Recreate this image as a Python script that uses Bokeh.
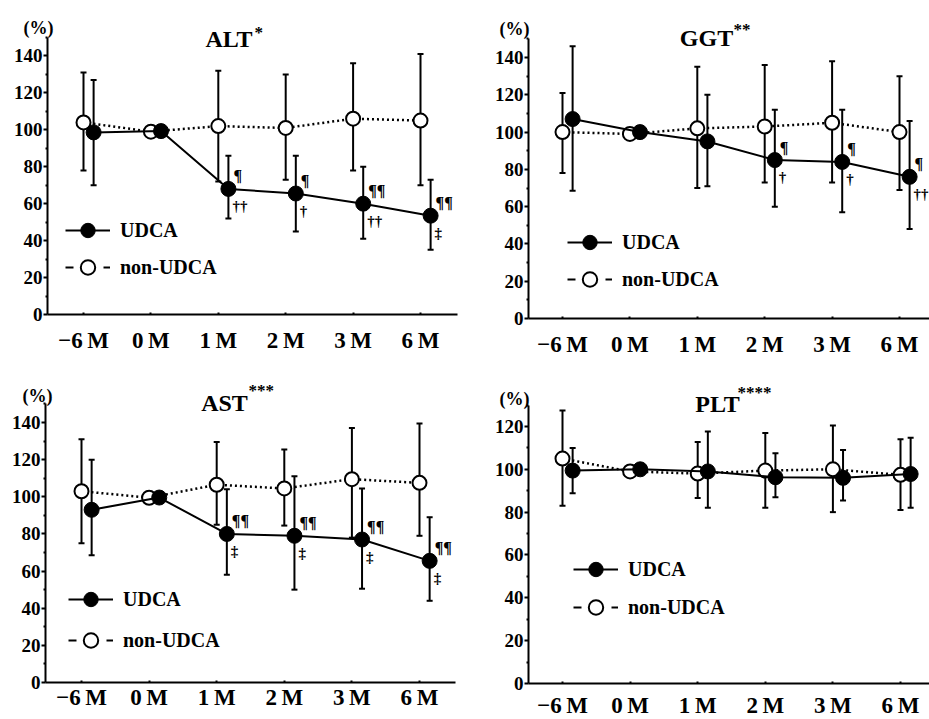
import math
from bokeh.plotting import figure
from bokeh.layouts import column, row
from bokeh.models import (ColumnDataSource, Whisker, TeeHead, Legend, LegendItem,
                          Label, FixedTicker, Range1d)
from bokeh.core.properties import value
from bokeh.embed import file_html
from bokeh.resources import INLINE

NaN = float("nan")
FONT = "Liberation Serif"

# ---------------- data ----------------
months = ["\u22126\u2009M", "0\u2009M", "1\u2009M", "2\u2009M", "3\u2009M", "6\u2009M"]

alt_non = [104, 99, 102, 101, 106, 105]
alt_non_hi = [131, NaN, 132, 130, 136, 141]
alt_non_lo = [78, NaN, 72, 73, 78, 70]
alt_udca = [98.6, 99.3, 68, 65.5, 60, 53.5]
alt_udca_hi = [127, NaN, 86, 86, 80, 73]
alt_udca_lo = [70, NaN, 52, 45, 41, 35]
alt_up = ["", "", "\u00b6", "\u00b6", "\u00b6\u00b6", "\u00b6\u00b6"]
alt_dn = ["", "", "\u2020\u2020", "\u2020", "\u2020\u2020", "\u2021"]

ggt_non = [100, 99, 102, 103, 105, 100]
ggt_non_hi = [121, NaN, 135, 136, 138, 130]
ggt_non_lo = [78, NaN, 70, 73, 73, 69]
ggt_udca = [107, 100, 95, 85, 84, 76]
ggt_udca_hi = [146, NaN, 120, 112, 112, 106]
ggt_udca_lo = [68.5, NaN, 71, 60, 57, 48]
ggt_up = ["", "", "", "\u00b6", "\u00b6", "\u00b6"]
ggt_dn = ["", "", "", "\u2020", "\u2020", "\u2020\u2020"]

ast_non = [103, 99.5, 106.5, 104.5, 109.5, 107.5]
ast_non_hi = [131, NaN, 129.5, 125.5, 137, 139.5]
ast_non_lo = [75, NaN, 85, 84.5, 78, 79]
ast_udca = [93, 99.6, 80, 79, 77, 65.5]
ast_udca_hi = [120, NaN, 104, 111, 104.5, 89]
ast_udca_lo = [68.5, NaN, 58, 50, 50.5, 44]
ast_up = ["", "", "\u00b6\u00b6", "\u00b6\u00b6", "\u00b6\u00b6", "\u00b6\u00b6"]
ast_dn = ["", "", "\u2021", "\u2021", "\u2021", "\u2021"]

plt_non = [105, 99, 98, 99.4, 100, 97.4]
plt_non_hi = [127.5, NaN, 112.7, 117, 120.4, 114]
plt_non_lo = [83, NaN, 86.6, 82, 80, 81]
plt_udca = [99.4, 100, 99, 96.3, 96, 97.8]
plt_udca_hi = [110, NaN, 117.6, 107.5, 109, 114.7]
plt_udca_lo = [88.8, NaN, 82, 87, 85.4, 82]
plt_up = ["", "", "", "", "", ""]
plt_dn = ["", "", "", "", "", ""]

UDCA_SHIFT = 0.15
LEG_H = 36  # legend glyph box height (marker in legend = 0.4 * this)


def errsrc(xs, hi, lo):
    d = dict(x=[], upper=[], lower=[])
    for x, h, l in zip(xs, hi, lo):
        if not (math.isnan(h) or math.isnan(l)):
            d["x"].append(x); d["upper"].append(h); d["lower"].append(l)
    return ColumnDataSource(d)


def panel(name, stars, non, non_hi, non_lo, ud, ud_hi, ud_lo, up, dn, ymax, yticks, g):
    # g: page geometry (pixels) of this panel
    ox, oy, w, h = g["ox"], g["oy"], g["w"], g["h"]
    cx0, sp, y0p, py = g["cx0"], g["sp"], g["y0p"], g["py"]

    def dx(px):
        return (px - cx0) / sp

    def dy(pyy):
        return (y0p - pyy) / py

    p = figure(width=w, height=h, output_backend="svg", toolbar_location=None,
               title=None,
               x_range=Range1d(dx(ox), dx(ox + w)),
               y_range=Range1d(dy(oy + h), dy(oy)),
               min_border=0, min_border_left=0, min_border_right=0,
               min_border_top=0, min_border_bottom=0)
    p.outline_line_color = None
    p.xgrid.visible = False
    p.ygrid.visible = False
    p.background_fill_color = "white"
    p.border_fill_color = "white"

    xs = list(range(len(months)))
    xu = [x + UDCA_SHIFT for x in xs]

    # error bars
    for src in (errsrc(xs, non_hi, non_lo), errsrc(xu, ud_hi, ud_lo)):
        wk = Whisker(base="x", upper="upper", lower="lower", source=src,
                     dimension="height", line_color="black", line_width=2,
                     upper_head=TeeHead(size=6, line_width=2, line_color="black"),
                     lower_head=TeeHead(size=6, line_width=2, line_color="black"))
        p.add_layout(wk)

    # non-UDCA
    p.line(xs, non, line_color="black", line_width=2.5, line_dash="2 3")
    p.scatter(xs, non, marker="circle", size=14, fill_color="white",
              line_color="black", line_width=2)
    # UDCA
    p.line(xu, ud, line_color="black", line_width=2)
    p.scatter(xu, ud, marker="circle", size=15, fill_color="black",
              line_color="black")

    # significance marks
    ux = [x for x, t in zip(xu, up) if t]
    uy = [y for y, t in zip(ud, up) if t]
    ut = [t for t in up if t]
    if ut:
        p.text(ux, uy, text=ut, x_offset=5, y_offset=-13, text_color="black",
               text_font=value(FONT), text_font_style="bold",
               text_font_size="16px", text_baseline="middle", text_align="left")
    lx = [x for x, t in zip(xu, dn) if t]
    ly = [y for y, t in zip(ud, dn) if t]
    lt = [t for t in dn if t]
    if lt:
        p.text(lx, ly, text=lt, x_offset=4, y_offset=17, text_color="black",
               text_font=value(FONT), text_font_style="bold",
               text_font_size="15px", text_baseline="middle", text_align="left")

    # legend (legend-only renderers, no visible data)
    l1 = p.line([NaN], [NaN], line_color="black", line_width=2)
    m1 = p.scatter([NaN], [NaN], marker="circle", size=15, fill_color="black", line_color="black")
    l2 = p.line([NaN], [NaN], line_color="black", line_width=2, line_dash="8 30")
    m2 = p.scatter([NaN], [NaN], marker="circle", size=13, fill_color="white",
                   line_color="black", line_width=2)
    r1, r2 = g["leg_rows"]
    leg = Legend(items=[LegendItem(label="UDCA", renderers=[l1, m1]),
                        LegendItem(label="non-UDCA", renderers=[l2, m2])],
                 location=(g["leg_left"] - ox, (oy + h) - (r2 + LEG_H / 2)),
                 background_fill_alpha=0, border_line_color=None,
                 padding=0, margin=0, spacing=int(max(0, r2 - r1 - LEG_H)), glyph_width=45,
                 glyph_height=LEG_H, label_height=LEG_H, label_standoff=10,
                 label_text_font=FONT, label_text_font_style="bold",
                 label_text_color="black",
                 label_text_font_size="20px", label_text_baseline="middle")
    p.add_layout(leg)

    # axes (pinned at the data origin, bounded like the original)
    ax_x = dx(g["ax"])
    p.xaxis.fixed_location = 0
    p.yaxis.fixed_location = ax_x
    p.xaxis.bounds = (ax_x, dx(g["xr"]))
    p.yaxis.bounds = (0, ymax)
    p.xaxis.ticker = FixedTicker(ticks=xs)
    p.xaxis.major_label_overrides = {i: m for i, m in enumerate(months)}
    p.yaxis.ticker = FixedTicker(ticks=yticks,
                                 minor_ticks=[t + 10 for t in yticks])
    for ax in (p.xaxis, p.yaxis):
        ax.axis_line_width = 2
        ax.axis_line_color = "black"
        ax.major_tick_line_color = "black"
        ax.major_tick_line_width = 2
        ax.minor_tick_line_color = "black"
        ax.minor_tick_line_width = 2
        ax.major_label_text_font = FONT
        ax.major_label_text_font_style = "bold"
        ax.major_label_text_color = "black"
    p.xaxis.major_tick_in = 2
    p.xaxis.major_tick_out = 0
    p.xaxis.minor_tick_line_color = None
    p.xaxis.major_label_text_font_size = "23px"
    p.xaxis.major_label_standoff = g["xstand"]
    p.yaxis.major_tick_in = 0
    p.yaxis.major_tick_out = 4
    p.yaxis.minor_tick_in = 0
    p.yaxis.minor_tick_out = 2
    p.yaxis.major_label_text_font_size = "19px"
    p.yaxis.major_label_standoff = 1

    # title and unit labels
    tx, ty = g["title"]
    sx, sy = g["stars"]
    qx, qy = g["pct"]
    p.add_layout(Label(x=dx(tx), y=dy(ty), text=name, text_font=FONT,
                       text_font_style="bold", text_font_size="24px",
                       text_align="center", text_baseline="alphabetic",
                       text_color="black"))
    p.add_layout(Label(x=dx(sx), y=dy(sy), text=stars, text_font=FONT,
                       text_font_style="bold", text_font_size="17px",
                       text_align="left", text_baseline="top", text_color="black"))
    p.add_layout(Label(x=dx(qx), y=dy(qy), text="(%)", text_font=FONT,
                       text_font_style="bold", text_font_size="18px",
                       text_align="center", text_baseline="alphabetic",
                       text_color="black"))
    return p


ticks140 = [0, 20, 40, 60, 80, 100, 120, 140]
ticks120 = [0, 20, 40, 60, 80, 100, 120]

TOP_H, BOT_H = 358, 361
LEFT_W, RIGHT_W = 465, 464

g_alt = dict(ox=0, oy=0, w=LEFT_W, h=TOP_H, cx0=83, sp=67.4, y0p=314, py=1.847,
             ax=47, xr=457, xstand=13, title=(228.5, 38), stars=(254, 22), pct=(38, 27),
             leg_left=65, leg_rows=(230, 267))
g_ggt = dict(ox=LEFT_W, oy=0, w=RIGHT_W, h=TOP_H, cx0=562, sp=67.4, y0p=318, py=1.864,
             ax=528, xr=929, xstand=13, title=(706, 37), stars=(733, 19), pct=(514, 28),
             leg_left=567, leg_rows=(242, 279))
g_ast = dict(ox=0, oy=TOP_H, w=LEFT_W, h=BOT_H, cx0=81, sp=67.6, y0p=682, py=1.857,
             ax=45, xr=455, xstand=2, title=(224, 402), stars=(248, 380), pct=(37, 395),
             leg_left=68, leg_rows=(599, 640))
g_plt = dict(ox=LEFT_W, oy=TOP_H, w=RIGHT_W, h=BOT_H, cx0=562, sp=67.6, y0p=683, py=2.142,
             ax=528, xr=929, xstand=9, title=(717, 403), stars=(737, 382), pct=(514, 398),
             leg_left=573, leg_rows=(569, 607))

p1 = panel("ALT", "*", alt_non, alt_non_hi, alt_non_lo, alt_udca, alt_udca_hi, alt_udca_lo,
           alt_up, alt_dn, 150, ticks140, g_alt)
p2 = panel("GGT", "**", ggt_non, ggt_non_hi, ggt_non_lo, ggt_udca, ggt_udca_hi, ggt_udca_lo,
           ggt_up, ggt_dn, 150, ticks140, g_ggt)
p3 = panel("AST", "***", ast_non, ast_non_hi, ast_non_lo, ast_udca, ast_udca_hi, ast_udca_lo,
           ast_up, ast_dn, 150, ticks140, g_ast)
p4 = panel("PLT", "****", plt_non, plt_non_hi, plt_non_lo, plt_udca, plt_udca_hi, plt_udca_lo,
           plt_up, plt_dn, 130, ticks120, g_plt)

layout = column(row(p1, p2), row(p3, p4))
open("out.html", "w").write(file_html(layout, INLINE))
